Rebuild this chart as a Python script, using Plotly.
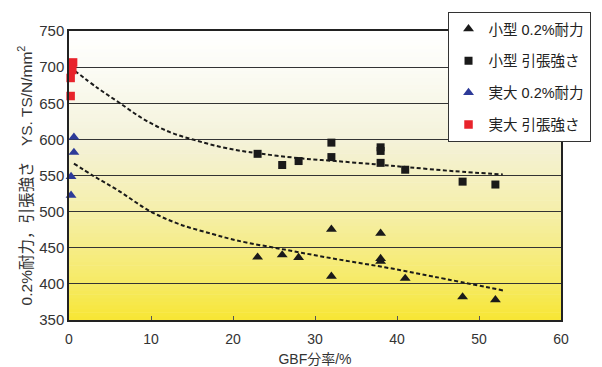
import plotly.graph_objects as go

# ---- data ----
small_ys_x = [23, 26, 28, 32, 32, 38, 38, 38, 41, 48, 52]
small_ys_y = [437, 440, 436.5, 475.5, 410.5, 470, 435, 431, 407.5, 382, 378]

small_ts_x = [23, 26, 28, 32, 32, 38, 38, 38, 41, 48, 52]
small_ts_y = [580, 564.5, 570, 595.5, 575.5, 589, 584, 567.5, 558, 541.5, 537.5]

full_ys_x = [0.6, 0.6, 0.25, 0.25]
full_ys_y = [603, 582, 548.5, 522.5]

full_ts_x = [0.5, 0.4, 0.2, 0.2]
full_ts_y = [706.5, 696, 685, 660]

trend_ts_x = [0.7, 3.5, 6.1, 9.1, 12.3, 15.5, 18.7, 21.9, 28.5, 32.5, 37.3, 41.3, 46.9, 52.9]
trend_ts_y = [695, 671, 651, 628, 610, 598.5, 589, 582.5, 573.5, 570, 565.5, 561.5, 556, 551.5]

trend_ys_x = [0.6, 3.1, 5.9, 9.9, 13.5, 17.5, 20.5, 26.5, 32.5, 38.5, 44.5, 53.1]
trend_ys_y = [566.5, 548.5, 530, 500.5, 482.5, 469, 460, 447, 434.5, 423, 410, 390.5]

x_ticks = [0, 10, 20, 30, 40, 50, 60]
y_ticks = [350, 400, 450, 500, 550, 600, 650, 700, 750]

labels = ["小型 0.2%耐力", "小型 引張強さ", "実大 0.2%耐力", "実大 引張強さ"]

FONT = "Liberation Sans, Arial, Noto Sans CJK JP, sans-serif"

fig = go.Figure()

# trend lines
for tx, ty in [(trend_ts_x, trend_ts_y), (trend_ys_x, trend_ys_y)]:
    fig.add_trace(go.Scatter(x=tx, y=ty, mode="lines", showlegend=False,
                             line=dict(color="#1a1a1a", width=2, dash="4px,2.5px", shape="spline"),
                             hoverinfo="skip"))

series = [
    (small_ys_x, small_ys_y, "triangle-up", "#1a1a1a", 9.5, labels[0]),
    (small_ts_x, small_ts_y, "square", "#1a1a1a", 8, labels[1]),
    (full_ys_x, full_ys_y, "triangle-up", "#2d3a98", 9.5, labels[2]),
    (full_ts_x, full_ts_y, "square", "#e8232b", 8.5, labels[3]),
]
for i, (sx, sy, sym, col, sz, name) in enumerate(series):
    fig.add_trace(go.Scatter(x=sx, y=sy, mode="markers", name=name, legendgroup=f"g{i}",
                             marker=dict(symbol=sym, color=col, size=sz, line=dict(width=0)),
                             cliponaxis=False))

# gradient background (white top -> yellow bottom)
stops = [(0.0, (247, 230, 52)), (0.125, (246, 234, 100)), (0.375, (245, 239, 170)),
         (0.625, (244, 242, 218)), (0.85, (251, 251, 243)), (1.0, (255, 255, 255))]

def col_at(t):
    for (t0, c0), (t1, c1) in zip(stops[:-1], stops[1:]):
        if t0 <= t <= t1:
            f = (t - t0) / (t1 - t0)
            return "rgb(%d,%d,%d)" % tuple(round(a + (b - a) * f) for a, b in zip(c0, c1))
    return "rgb(255,255,255)"

shapes = []
N = 80
for k in range(N):
    y0 = k / N
    y1 = (k + 1) / N + 0.002
    shapes.append(dict(type="rect", xref="x domain", yref="y domain", x0=0, x1=1,
                       y0=y0, y1=min(y1, 1), fillcolor=col_at((k + 0.5) / N),
                       line=dict(width=0), layer="below"))

fig.update_layout(
    width=602, height=367,
    margin=dict(l=69, r=33, t=27, b=47),
    paper_bgcolor="white", plot_bgcolor="white",
    font=dict(family=FONT, color="#333333"),
    shapes=shapes,
    showlegend=True,
    legend=dict(x=1.06, xanchor="right", y=1.066, yanchor="top",
                bgcolor="white", bordercolor="#333333", borderwidth=1,
                font=dict(size=14.5, color="#222222", family=FONT),
                tracegroupgap=10, traceorder="grouped", itemwidth=30),
)
fig.update_xaxes(range=[0, 60], tickvals=x_ticks, ticks="inside", ticklen=4,
                 tickcolor="#555", showgrid=False, zeroline=False,
                 showline=True, linecolor="#222", linewidth=1.5, mirror=True,
                 ticklabelstandoff=5, automargin=False,
                 tickfont=dict(size=14, color="#333"),
                 title=dict(text="GBF分率/%", font=dict(size=14, color="#333"), standoff=9))
fig.update_yaxes(range=[350, 750], tickvals=y_ticks, ticks="", showgrid=True,
                 gridcolor="#333333", gridwidth=1, zeroline=False,
                 showline=True, linecolor="#222", linewidth=1.5, mirror=True,
                 automargin=False,
                 tickfont=dict(size=15, color="#333"),
                 title=dict(text="0.2%耐力，引張強さ　YS. TS/N/mm<sup>2</sup>",
                            font=dict(size=15.5, color="#333"), standoff=3))

fig.write_html("out.html")
